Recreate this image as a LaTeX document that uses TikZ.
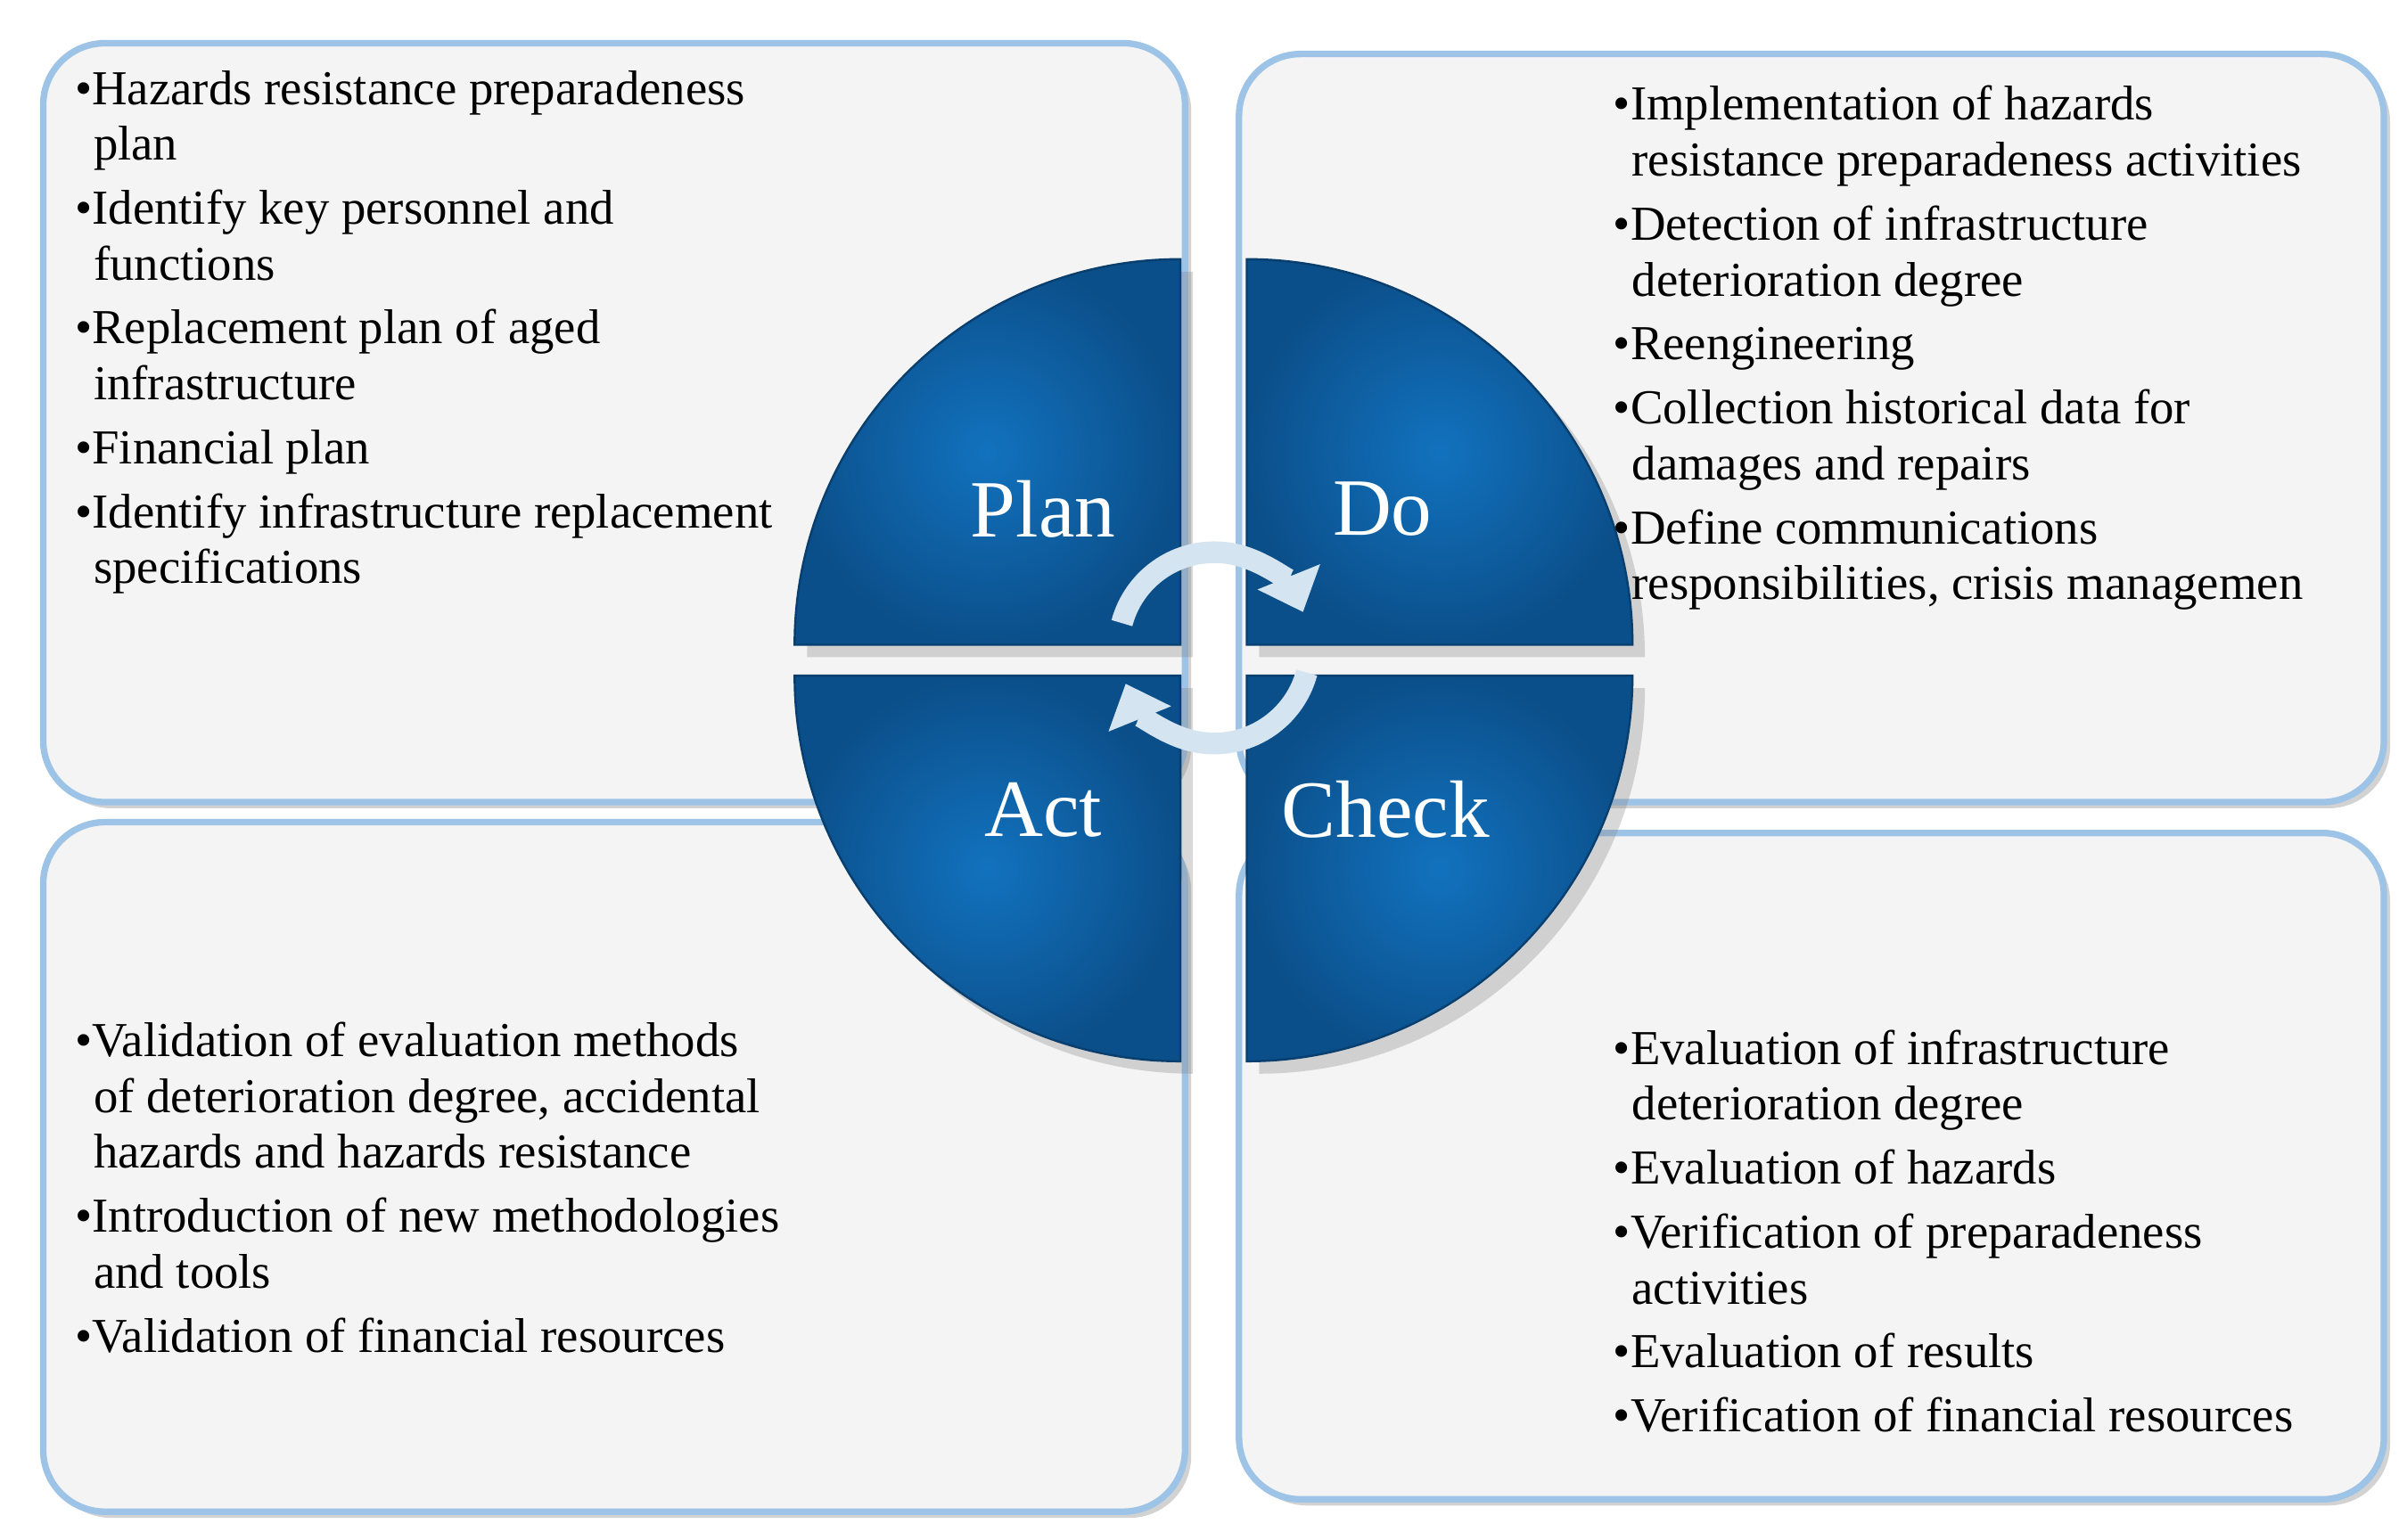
\documentclass[tikz,border=0pt]{standalone}
\usepackage{fontspec}
\setmainfont{Liberation Serif}
\usetikzlibrary{shadows,arrows.meta}
\definecolor{boxfill}{HTML}{F4F4F4}
\definecolor{boxline}{HTML}{9DC3E6}
\definecolor{qblue}{HTML}{1272BE}
\definecolor{qdark}{HTML}{0B4F8A}
\definecolor{arr}{HTML}{D5E4F1}
\tikzset{
 panel/.style={fill=boxfill,draw=boxline,line width=1.2pt,rounded corners=0.4cm,drop shadow={shadow xshift=0.04cm,shadow yshift=-0.04cm,opacity=0.35}},
 quad/.style={inner color=qblue,outer color=qdark,draw=qdark!80!black,line width=0.4pt},
 qlabel/.style={text=white,font=\fontsize{15}{18}\selectfont},
 bodytext/.style={align=left,anchor=north west,inner sep=0pt,font=\fontsize{9}{10.3}\selectfont},
 cyc/.style={line width=4pt,draw=arr,-{Triangle[length=7pt,width=12pt]}}
}
\newcommand{\itm}[1]{\textbullet#1}
\begin{document}
\begin{tikzpicture}
\useasboundingbox (0,0) rectangle (15.6,-9.98);
\fill[white] (0,0) rectangle (15.6,-9.98);
\path[panel] (0.28,-0.28) rectangle (7.68,-5.2);
\path[panel] (8.03,-0.35) rectangle (15.45,-5.2);
\path[panel] (0.28,-5.33) rectangle (7.68,-9.8);
\path[panel] (8.03,-5.4) rectangle (15.45,-9.72);
% quadrants
\path[quad,drop shadow={opacity=0.3}] (7.65,-4.18) -- ++(-2.5,0) arc[start angle=180,end angle=90,radius=2.5] -- cycle;
\path[quad,drop shadow={opacity=0.3}] (8.08,-4.18) -- ++(0,2.5) arc[start angle=90,end angle=0,radius=2.5] -- cycle;
\path[quad,drop shadow={opacity=0.3}] (7.65,-4.38) -- ++(0,-2.5) arc[start angle=270,end angle=180,radius=2.5] -- cycle;
\path[quad,drop shadow={opacity=0.3}] (8.08,-4.38) -- ++(2.5,0) arc[start angle=0,end angle=-90,radius=2.5] -- cycle;
\node[qlabel] (plan) at (6.76,-3.3) {Plan};
\node[qlabel] (do) at (8.96,-3.3) {Do};
\node[qlabel] (act) at (6.76,-5.25) {Act};
\node[qlabel] (check) at (8.98,-5.25) {Check};
\coordinate (c) at (7.87,-4.2);
\draw[cyc] ([shift={(165:0.62)}]c) arc[start angle=165,end angle=22,radius=0.62];
\draw[cyc] ([shift={(-15:0.62)}]c) arc[start angle=-15,end angle=-158,radius=0.62];
% texts
\node[bodytext] (tl) at (0.48,-0.45) {\itm{Hazards resistance preparadeness}\\[-0.0pt]\hspace*{0.12cm}plan\\[1.5pt]
\itm{Identify key personnel and}\\\hspace*{0.12cm}functions\\[1.5pt]
\itm{Replacement plan of aged}\\\hspace*{0.12cm}infrastructure\\[1.5pt]
\itm{Financial plan}\\[1.5pt]
\itm{Identify infrastructure replacement}\\\hspace*{0.12cm}specifications};
\node[bodytext] (tr) at (10.45,-0.55) {\itm{Implementation of hazards}\\\hspace*{0.12cm}resistance preparadeness activities\\[1.5pt]
\itm{Detection of infrastructure}\\\hspace*{0.12cm}deterioration degree\\[1.5pt]
\itm{Reengineering}\\[1.5pt]
\itm{Collection historical data for}\\\hspace*{0.12cm}damages and repairs\\[1.5pt]
\itm{Define communications}\\\hspace*{0.12cm}responsibilities, crisis managemen};
\node[bodytext] (bl) at (0.48,-6.62) {\itm{Validation of evaluation methods}\\\hspace*{0.12cm}of deterioration degree, accidental\\\hspace*{0.12cm}hazards and hazards resistance\\[1.5pt]
\itm{Introduction of new methodologies}\\\hspace*{0.12cm}and tools\\[1.5pt]
\itm{Validation of financial resources}};
\node[bodytext] (br) at (10.45,-6.67) {\itm{Evaluation of infrastructure}\\\hspace*{0.12cm}deterioration degree\\[1.5pt]
\itm{Evaluation of hazards}\\[1.5pt]
\itm{Verification of preparadeness}\\\hspace*{0.12cm}activities\\[1.5pt]
\itm{Evaluation of results}\\[1.5pt]
\itm{Verification of financial resources}};
\end{tikzpicture}
\end{document}
